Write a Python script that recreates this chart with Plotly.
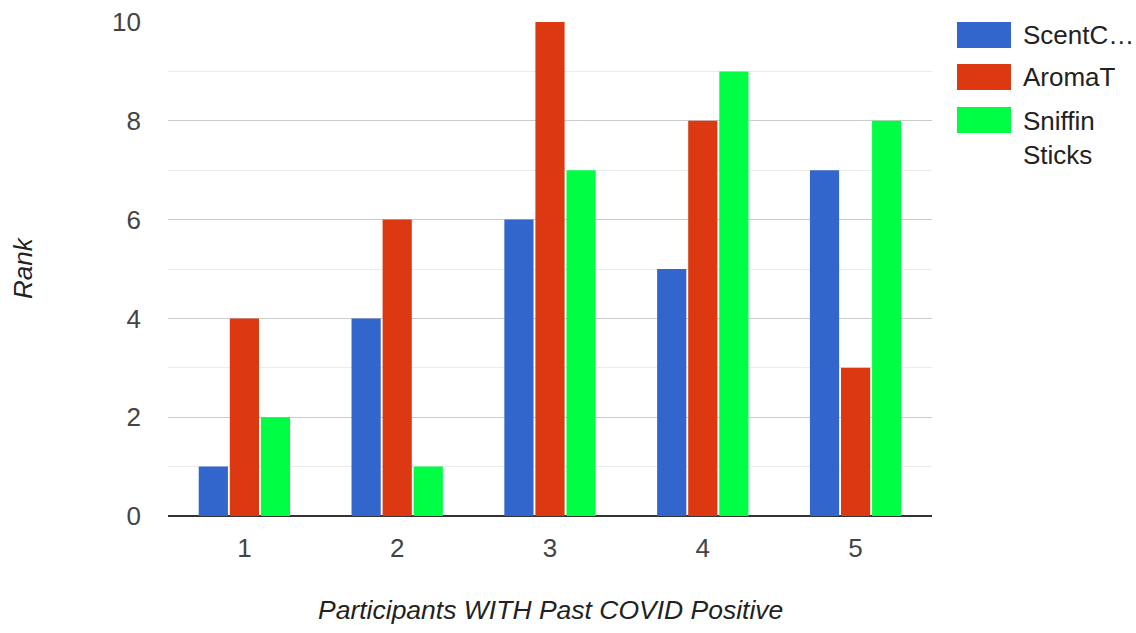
import plotly.graph_objects as go

participants = ["1", "2", "3", "4", "5"]
series_names = ["ScentC…", "AromaT", "Sniffin Sticks"]
legend_labels = ["ScentC…", "AromaT", "Sniffin<br>Sticks"]
scentc = [1, 4, 6, 5, 7]
aromat = [4, 6, 10, 8, 3]
sniffin = [2, 1, 7, 9, 8]
colors = ["#3366cc", "#dc3912", "#00ff44"]

W, H = 1136, 633
L, R, T, B = 168, 204, 22, 117
PW, PH = W - L - R, H - T - B

font_family = "Liberation Sans, Arial, sans-serif"

fig = go.Figure()
for name, vals, col in zip(series_names, [scentc, aromat, sniffin], colors):
    fig.add_trace(go.Bar(x=participants, y=vals, name=name, marker_color=col,
                         marker_line_width=0, showlegend=False))


def px_x(px):
    return (px - L) / PW


def px_y(py):
    return (H - B - py) / PH


# Legend drawn as large colour swatches with labels
swatch_tops = [22, 64, 107]
text_centres = [35, 77, 138]
for lab, col, top, tc in zip(legend_labels, colors, swatch_tops, text_centres):
    fig.add_shape(type="rect", xref="paper", yref="paper",
                  x0=px_x(957), x1=px_x(1011), y0=px_y(top + 26), y1=px_y(top),
                  fillcolor=col, line=dict(width=0))
    fig.add_annotation(xref="paper", yref="paper", x=px_x(1021), y=px_y(tc),
                       text=lab, showarrow=False, xanchor="left", yanchor="middle",
                       align="left",
                       font=dict(family=font_family, size=26, color="#222222"))

# Axis titles
fig.add_annotation(xref="paper", yref="paper", x=px_x(550), y=px_y(610),
                   text="<i>Participants WITH Past COVID Positive</i>", showarrow=False,
                   xanchor="center", yanchor="middle",
                   font=dict(family=font_family, size=26.5, color="#222222"))
fig.add_annotation(xref="paper", yref="paper", x=px_x(23), y=px_y(268),
                   text="<i>Rank</i>", showarrow=False, textangle=-90,
                   xanchor="center", yanchor="middle",
                   font=dict(family=font_family, size=26, color="#222222"))

fig.update_layout(
    width=W, height=H,
    margin=dict(l=L, r=R, t=T, b=B, pad=0),
    paper_bgcolor="white", plot_bgcolor="white",
    barmode="group", bargap=0.39, bargroupgap=0.06,
    font=dict(family=font_family, size=26, color="#222222"),
    xaxis=dict(
        tickfont=dict(size=26, color="#444444"),
        showgrid=False, showline=False, ticks="", ticklabelstandoff=14,
        automargin=False,
    ),
    yaxis=dict(
        range=[0, 10], dtick=2, tick0=0,
        tickfont=dict(size=26, color="#444444"),
        showgrid=True, gridcolor="#cccccc", gridwidth=1,
        minor=dict(dtick=1, tick0=0, showgrid=True, gridcolor="#ebebeb", gridwidth=1),
        zeroline=True, zerolinecolor="#333333", zerolinewidth=2,
        ticks="", ticklabelstandoff=26,
        automargin=False,
    ),
)

fig.write_html("out.html")
